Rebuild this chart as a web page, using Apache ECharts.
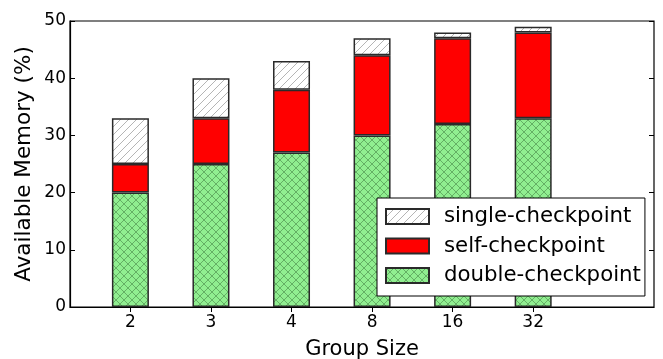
<!DOCTYPE html>
<html>
<head>
<meta charset="utf-8">
<script src="https://cdn.jsdelivr.net/npm/echarts@6/dist/echarts.min.js"></script>
<style>
  html, body { margin: 0; padding: 0; background: #fff; }
  #chart { width: 663px; height: 359px; }
</style>
</head>
<body>
<div id="chart"></div>
<script>
// Group sizes and memory breakdown (%) per group size
const groupSizes = ['2', '3', '4', '8', '16', '32'];
const doubleCheckpoint = [20, 25, 27, 30, 32, 33];
const selfCheckpoint = [5, 8, 11, 14, 15, 15];
const singleCheckpoint = [8, 7, 5, 3, 1, 1];
const yTicks = [0, 10, 20, 30, 40, 50];

const FONT = 'DejaVu Sans';
const positions = groupSizes.map((_, i) => i + 1);

// Hatch fill textures
function hatch(bg, line, cross) {
  const s = 8;
  const c = document.createElement('canvas');
  c.width = s; c.height = s;
  const g = c.getContext('2d');
  g.fillStyle = bg;
  g.fillRect(0, 0, s, s);
  g.strokeStyle = line;
  g.lineWidth = 1;
  g.beginPath();
  g.moveTo(0, s); g.lineTo(s, 0);
  g.moveTo(-1, 1); g.lineTo(1, -1);
  g.moveTo(s - 1, s + 1); g.lineTo(s + 1, s - 1);
  if (cross) {
    g.moveTo(0, 0); g.lineTo(s, s);
    g.moveTo(-1, s - 1); g.lineTo(1, s + 1);
    g.moveTo(s - 1, -1); g.lineTo(s + 1, 1);
  }
  g.stroke();
  return { image: c, repeat: 'repeat' };
}

const singleFill = hatch('#ffffff', '#b5b5b5', false);
const doubleFill = hatch('#90ee90', '#64b064', true);

// value first so the library stacks along y; position second for x
function toPoints(vals) {
  return vals.map((v, i) => [v, positions[i]]);
}

const barBase = {
  type: 'bar',
  stack: 'mem',
  barWidth: 37,
  xAxisIndex: 0,
  yAxisIndex: 0,
  encode: { x: 1, y: 0 }
};
const edge = { borderColor: '#2a2a2a', borderWidth: 1.5 };

const chart = echarts.init(document.getElementById('chart'), null, { renderer: 'canvas' });
chart.setOption({
  animation: false,
  backgroundColor: '#ffffff',
  textStyle: { fontFamily: FONT },
  grid: {
    left: 70, right: 9, top: 21, bottom: 52,
    containLabel: false, outerBoundsMode: 'none',
    show: true, borderColor: '#000', borderWidth: 1.2, backgroundColor: 'transparent'
  },
  xAxis: [{
    type: 'value',
    min: 0.25,
    max: 7.5,
    name: 'Group Size',
    nameLocation: 'middle',
    nameGap: 32,
    nameMoveOverlap: false,
    nameTextStyle: { fontSize: 21, color: '#000', fontFamily: FONT },
    axisLine: { show: true, lineStyle: { color: '#000', width: 1.2 } },
    axisTick: { show: true, inside: true, length: 5, customValues: positions, lineStyle: { color: '#000' } },
    axisLabel: {
      show: true, customValues: positions, fontSize: 17, color: '#000', fontFamily: FONT, margin: 7,
      formatter: v => groupSizes[Math.round(v) - 1] || ''
    },
    splitLine: { show: false }
  }, {
    type: 'value',
    position: 'top',
    min: 0.25,
    max: 7.5,
    axisLine: { show: false },
    axisTick: { show: true, inside: true, length: 5, customValues: positions, lineStyle: { color: '#000' } },
    axisLabel: { show: false },
    splitLine: { show: false }
  }],
  yAxis: [{
    type: 'value',
    min: 0,
    max: 50,
    interval: 10,
    name: 'Available Memory (%)',
    nameLocation: 'middle',
    nameGap: 35,
    nameMoveOverlap: false,
    nameTextStyle: { fontSize: 21.5, color: '#000', fontFamily: FONT },
    axisLine: { show: true, lineStyle: { color: '#000', width: 1.2 } },
    axisTick: { show: true, inside: true, length: 5, lineStyle: { color: '#000' } },
    axisLabel: { fontSize: 17, color: '#000', fontFamily: FONT, margin: 4, customValues: yTicks },
    splitLine: { show: false }
  }, {
    type: 'value',
    position: 'right',
    min: 0,
    max: 50,
    interval: 10,
    axisLine: { show: false },
    axisTick: { show: true, inside: true, length: 5, lineStyle: { color: '#000' } },
    axisLabel: { show: false },
    splitLine: { show: false }
  }],
  legend: {
    orient: 'vertical',
    left: 377,
    top: 198,
    padding: [8, 4, 10, 8],
    itemWidth: 43,
    itemHeight: 15,
    itemGap: 8.5,
    icon: 'rect',
    backgroundColor: '#ffffff',
    borderColor: '#000',
    borderWidth: 1,
    data: ['single-checkpoint', 'self-checkpoint', 'double-checkpoint'],
    textStyle: { fontSize: 21.3, color: '#000', fontFamily: FONT, padding: [0, 0, 0, 10] }
  },
  series: [
    Object.assign({}, barBase, {
      name: 'double-checkpoint',
      data: toPoints(doubleCheckpoint),
      itemStyle: Object.assign({ color: doubleFill }, edge)
    }),
    Object.assign({}, barBase, {
      name: 'self-checkpoint',
      data: toPoints(selfCheckpoint),
      itemStyle: Object.assign({ color: '#ff0000' }, edge)
    }),
    Object.assign({}, barBase, {
      name: 'single-checkpoint',
      data: toPoints(singleCheckpoint),
      itemStyle: Object.assign({ color: singleFill }, edge)
    })
  ]
});
</script>
</body>
</html>
